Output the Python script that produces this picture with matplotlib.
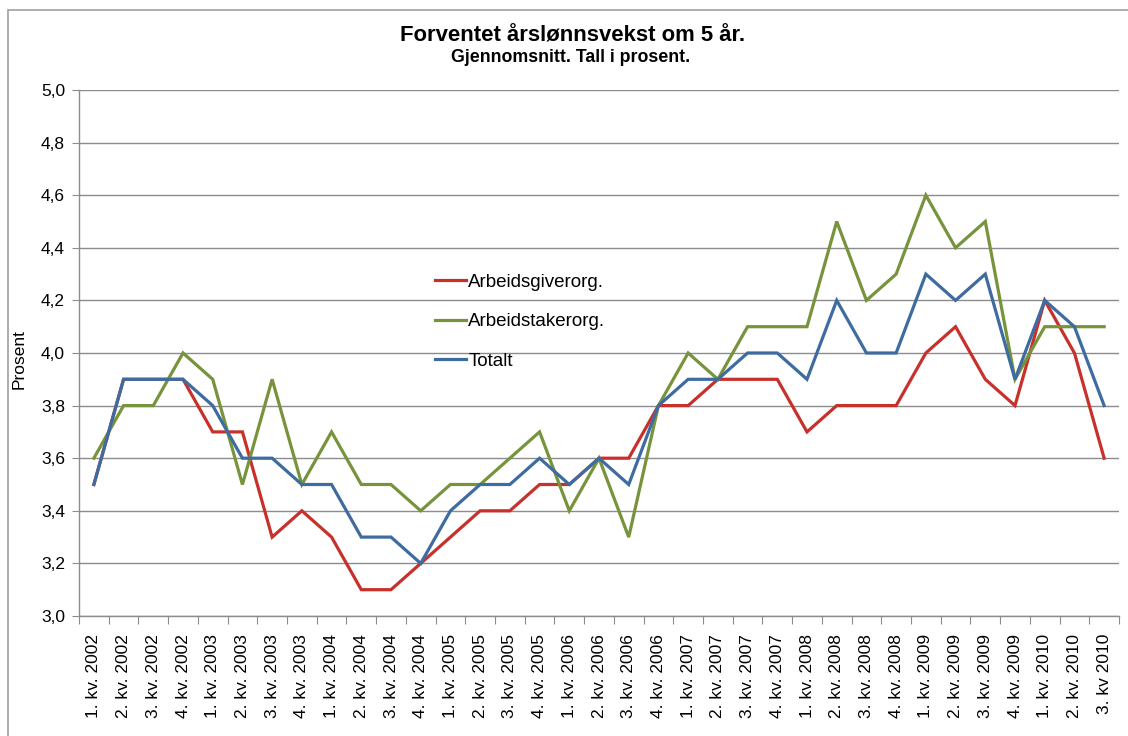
import matplotlib
matplotlib.use("Agg")
import matplotlib.pyplot as plt
from matplotlib.lines import Line2D
from matplotlib.patches import Rectangle

plt.rcParams['font.family'] = ['Liberation Sans', 'DejaVu Sans']

categories = []
for yr in range(2002, 2011):
    for q in range(1, 5):
        if yr == 2010 and q == 4:
            break
        categories.append(f"{q}. kv. {yr}")
categories[-1] = "3. kv 2010"

arbeidsgiver = [3.5, 3.9, 3.9, 3.9, 3.7, 3.7, 3.3, 3.4, 3.3, 3.1, 3.1, 3.2,
                3.3, 3.4, 3.4, 3.5, 3.5, 3.6, 3.6, 3.8, 3.8, 3.9, 3.9, 3.9,
                3.7, 3.8, 3.8, 3.8, 4.0, 4.1, 3.9, 3.8, 4.2, 4.0, 3.6]
arbeidstaker = [3.6, 3.8, 3.8, 4.0, 3.9, 3.5, 3.9, 3.5, 3.7, 3.5, 3.5, 3.4,
                3.5, 3.5, 3.6, 3.7, 3.4, 3.6, 3.3, 3.8, 4.0, 3.9, 4.1, 4.1,
                4.1, 4.5, 4.2, 4.3, 4.6, 4.4, 4.5, 3.9, 4.1, 4.1, 4.1]
totalt = [3.5, 3.9, 3.9, 3.9, 3.8, 3.6, 3.6, 3.5, 3.5, 3.3, 3.3, 3.2,
          3.4, 3.5, 3.5, 3.6, 3.5, 3.6, 3.5, 3.8, 3.9, 3.9, 4.0, 4.0,
          3.9, 4.2, 4.0, 4.0, 4.3, 4.2, 4.3, 3.9, 4.2, 4.1, 3.8]
series_names = ["Arbeidsgiverorg.", "Arbeidstakerorg.", "Totalt"]
yticks = [3.0, 3.2, 3.4, 3.6, 3.8, 4.0, 4.2, 4.4, 4.6, 4.8, 5.0]

colors = ["#C8312B", "#77933C", "#3E6CA0"]

W, H = 1128, 736
fig = plt.figure(figsize=(W / 100, H / 100), dpi=100)
fig.patch.set_facecolor("white")

# outer chart border
fig.patches.append(Rectangle((8 / W, -0.05), 1.2, (H - 10) / H + 0.05,
                             transform=fig.transFigure, fill=False,
                             edgecolor="#A0A0A0", linewidth=1.2))

left, right, top, bottom = 79, 1119, 90, 616
ax = fig.add_axes([left / W, 1 - bottom / H, (right - left) / W, (bottom - top) / H])

x = list(range(len(categories)))
for vals, c, name in zip([arbeidsgiver, arbeidstaker, totalt], colors, series_names):
    ax.plot(x, vals, color=c, linewidth=2.3, label=name, solid_joinstyle="miter", zorder=3)

ax.set_xlim(-0.5, len(categories) - 0.5)
ax.set_ylim(3.0, 5.0)
ax.set_yticks(yticks)
ax.set_yticklabels([f"{v:.1f}".replace(".", ",") for v in yticks], fontsize=12.5)
ax.yaxis.grid(True, color="#8C8C8C", linewidth=1.0)
ax.set_axisbelow(True)

ax.set_xticks([i - 0.5 for i in range(len(categories) + 1)], minor=False)
ax.set_xticklabels([])
ax.set_xticks(x, minor=True)
ax.set_xticklabels(categories, minor=True, rotation=90, fontsize=12.5)
ax.tick_params(axis="x", which="minor", length=0, pad=13)
ax.tick_params(axis="x", which="major", direction="out", length=6, color="#8C8C8C")
ax.tick_params(axis="y", length=5, color="#8C8C8C", pad=5)

for s in ["top", "right"]:
    ax.spines[s].set_visible(False)
for s in ["left", "bottom"]:
    ax.spines[s].set_color("#8C8C8C")
    ax.spines[s].set_linewidth(1.0)

fig.text(19 / W, 1 - 359 / H, "Prosent", rotation=90, ha="center", va="center", fontsize=12.5)

fig.text(573 / W, 1 - 36 / H, "Forventet årslønnsvekst om 5 år.", ha="center", va="center",
         fontsize=15.9, fontweight="bold")
fig.text(571 / W, 1 - 58 / H, "Gjennomsnitt. Tall i prosent.", ha="center", va="center",
         fontsize=12.8, fontweight="bold")

handles = [Line2D([0], [0], color=c, linewidth=2.3) for c in colors]
leg = ax.legend(handles, series_names, loc="upper left",
                bbox_to_anchor=((427 - left) / (right - left), 1 - (266 - top) / (bottom - top)),
                frameon=False, fontsize=13.5, handlelength=1.7, handletextpad=0.1,
                labelspacing=1.2, borderaxespad=0)

fig.savefig("out.png", dpi=100)
